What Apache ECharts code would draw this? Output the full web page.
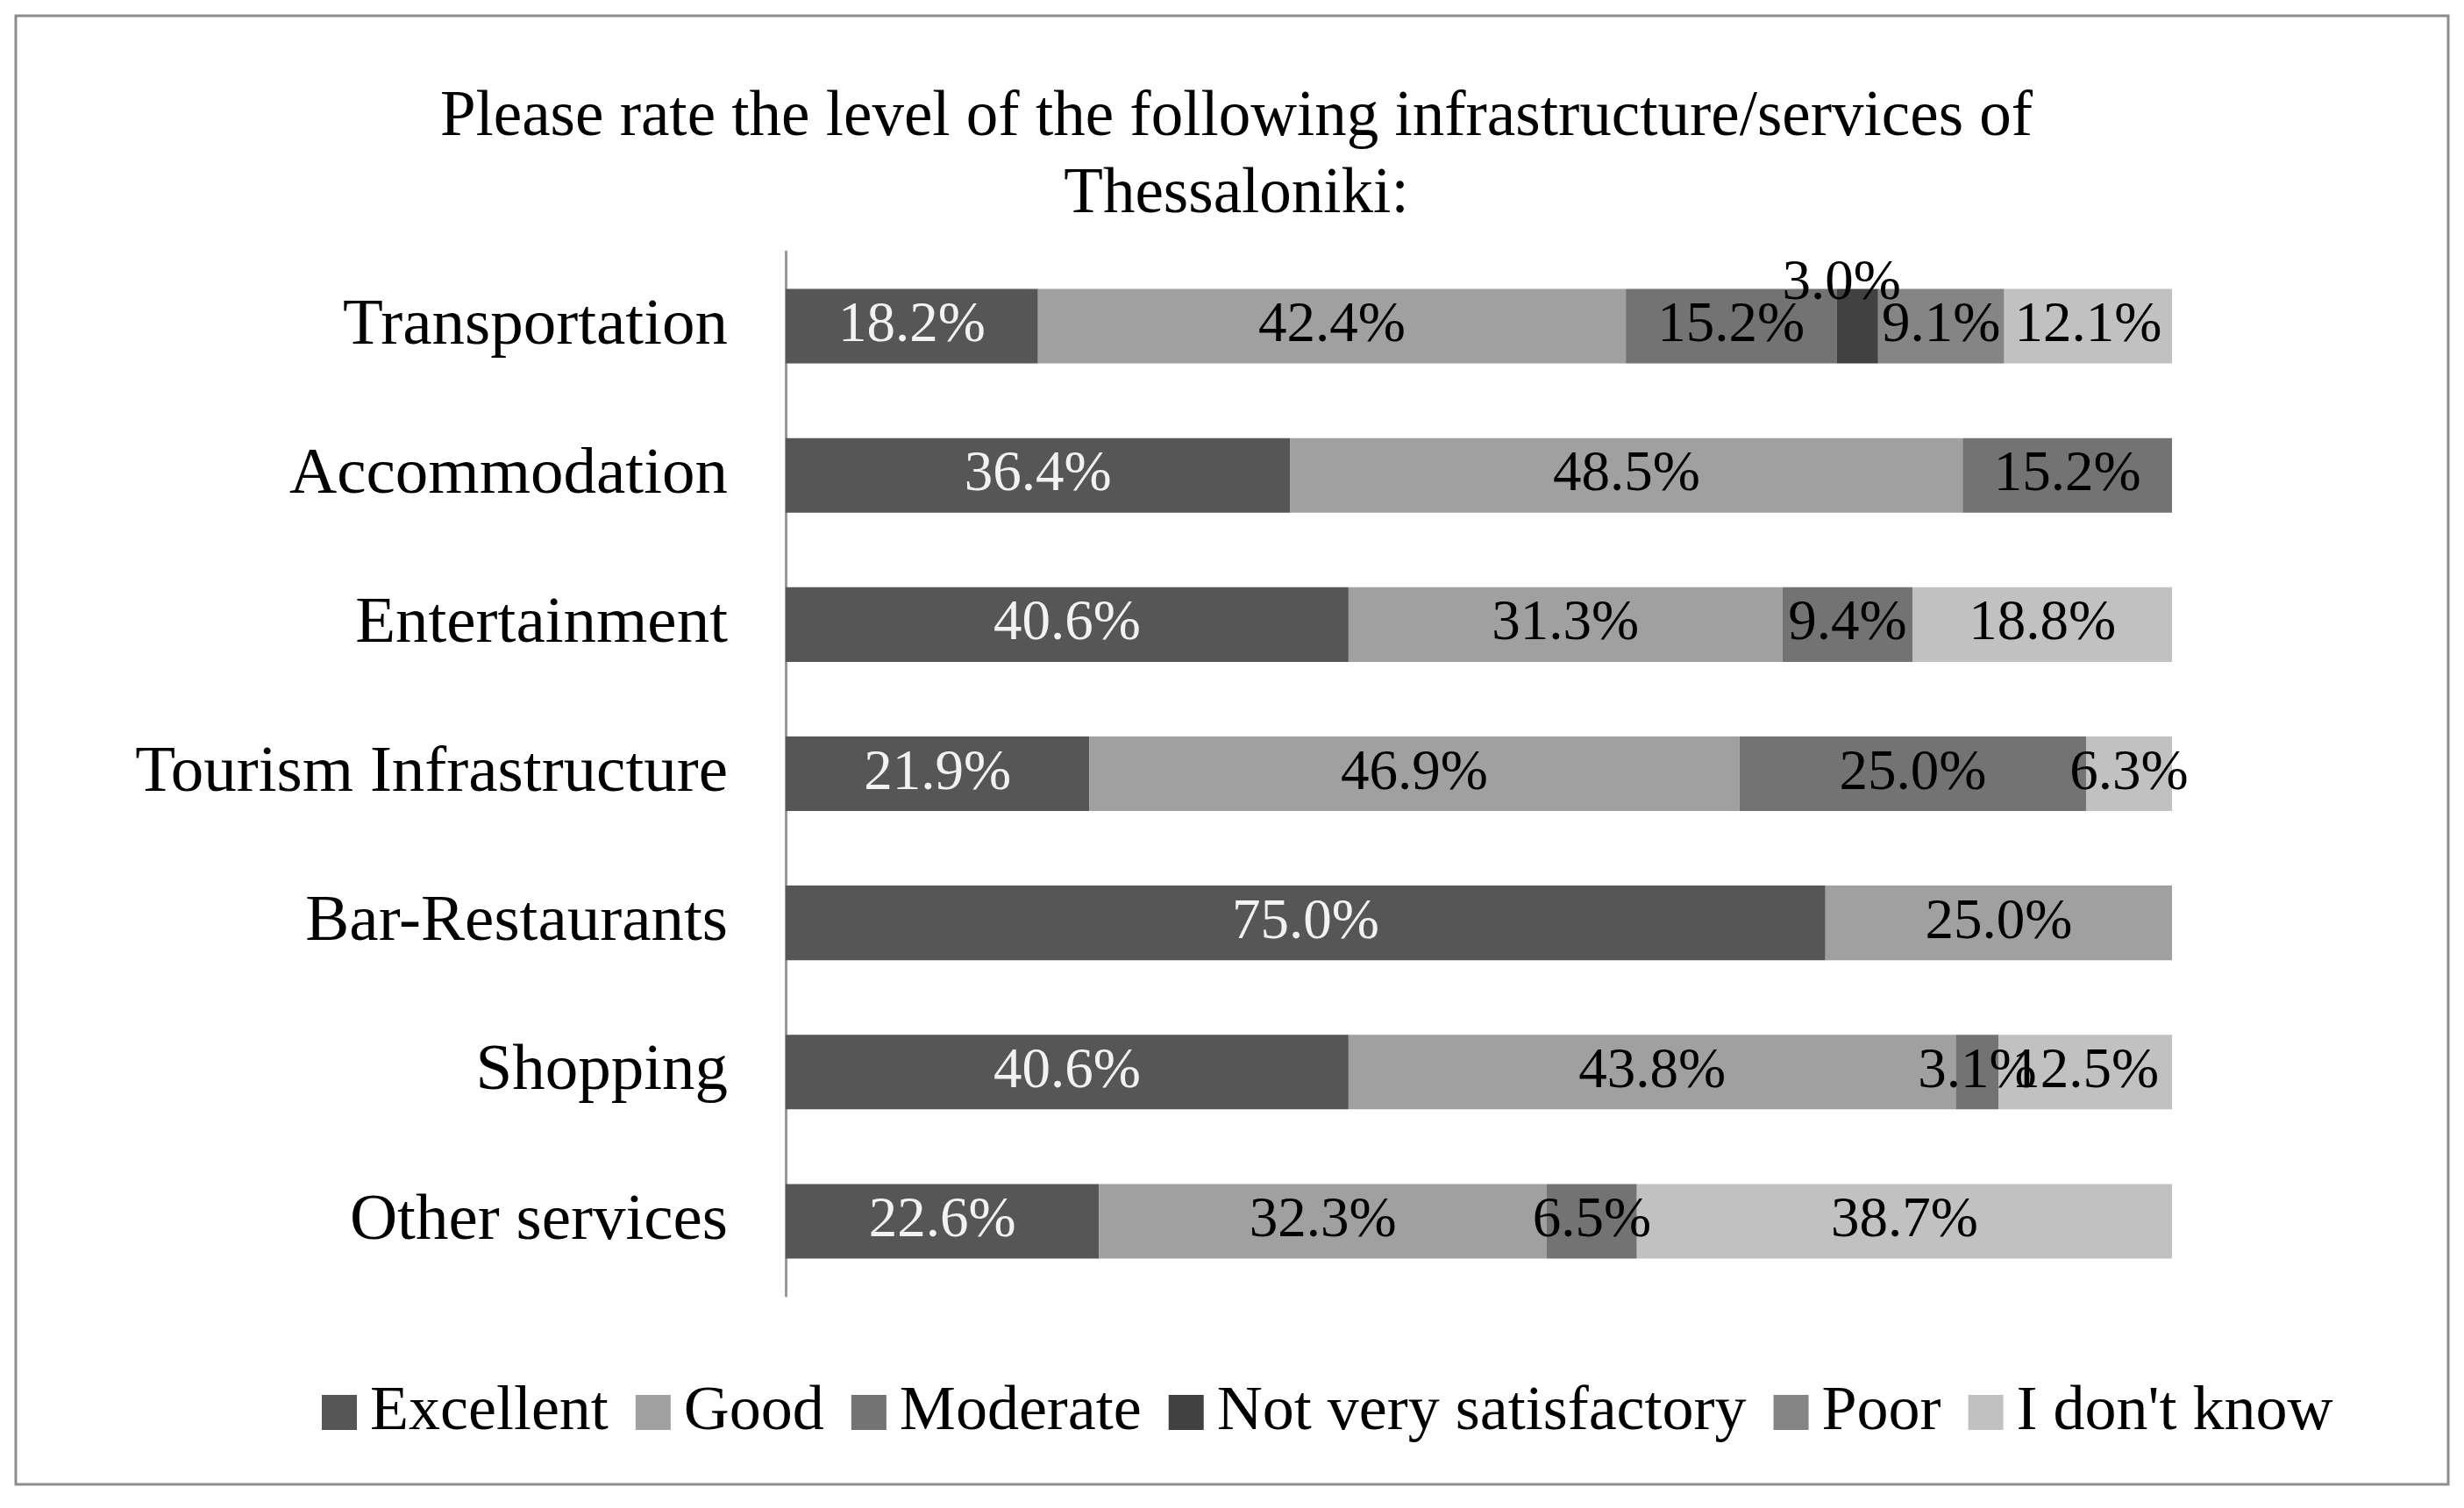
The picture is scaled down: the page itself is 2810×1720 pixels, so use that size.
<!DOCTYPE html>
<html>
<head>
<meta charset="utf-8">
<script src="https://cdn.jsdelivr.net/npm/echarts@6/dist/echarts.min.js"></script>
<style>
html,body{margin:0;padding:0;background:#fff;}
#chart{width:2810px;height:1720px;}
</style>
</head>
<body>
<div id="chart"></div>
<script>
const categories = ['Transportation','Accommodation','Entertainment','Tourism Infrastructure','Bar-Restaurants','Shopping','Other services'];
const seriesNames = ['Excellent','Good','Moderate','Not very satisfactory','Poor',"I don't know"];
const excellent = [18.2, 36.4, 40.6, 21.9, 75.0, 40.6, 22.6];
const good      = [42.4, 48.5, 31.3, 46.9, 25.0, 43.8, 32.3];
const moderate  = [15.2, 15.2, 9.4, 25.0, null, 3.1, 6.5];
const notVery   = [3.0, null, null, null, null, null, null];
const poor      = [9.1, null, null, null, null, null, null];
const dontKnow  = [12.1, null, 18.8, 6.3, null, 12.5, 38.7];
const values = [excellent, good, moderate, notVery, poor, dontKnow];
const colors = ['#565656','#a0a0a0','#737373','#414141','#858585','#c1c1c1'];
const labelColors = ['#f2f2f2','#000','#000','#000','#000','#000'];

const FONT = '"Liberation Serif", "Times New Roman", serif';

const chart = echarts.init(document.getElementById('chart'));
const series = values.map((arr, i) => ({
  name: seriesNames[i],
  type: 'bar',
  stack: 'total',
  barWidth: '50%',
  itemStyle: { color: colors[i] },
  label: {
    show: true,
    position: 'inside',
    color: labelColors[i],
    fontFamily: FONT,
    fontSize: 65,
    formatter: p => (p.value == null ? '' : p.value.toFixed(1) + '%'),
    offset: i === 3 ? [-18, -48] : [0, 0]
  },
  data: arr
}));

chart.setOption({
  animation: false,
  title: {
    text: 'Please rate the level of the following infrastructure/services of\nThessaloniki:',
    left: 1405,
    top: 86,
    textAlign: 'center',
    textStyle: { fontFamily: FONT, fontSize: 73, fontWeight: 'normal', color: '#000', lineHeight: 88, align: 'center' }
  },
  legend: {
    data: seriesNames,
    left: 362,
    top: 1570,
    itemWidth: 40,
    itemHeight: 40,
    itemGap: 31,
    icon: 'rect',
    textStyle: { fontFamily: FONT, fontSize: 72, color: '#000', padding: [0, 0, 0, 10] }
  },
  grid: { left: 896, right: 333, top: 287, bottom: 242, containLabel: false },
  xAxis: { type: 'value', min: 0, max: 100, show: false },
  yAxis: {
    type: 'category',
    data: categories,
    inverse: true,
    axisLine: { show: true, lineStyle: { color: '#999', width: 3 } },
    axisTick: { show: false },
    axisLabel: { fontFamily: FONT, fontSize: 75, color: '#000', margin: 66 }
  },
  graphic: [{
    type: 'rect',
    shape: { x: 18, y: 18, width: 2774, height: 1675 },
    style: { fill: 'none', stroke: '#8c8c8c', lineWidth: 3 },
    silent: true
  }],
  series: series
});
</script>
</body>
</html>
